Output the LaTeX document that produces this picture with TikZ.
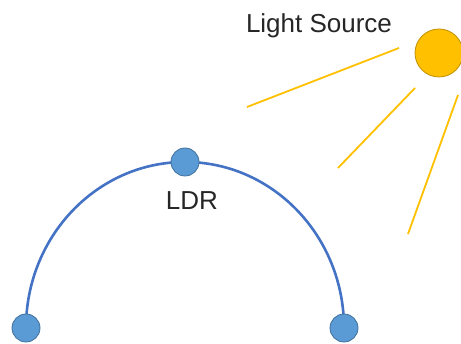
\documentclass[tikz,border=0pt]{standalone}
\usepackage{fontspec}
\setmainfont{Liberation Sans}
\definecolor{wireblue}{HTML}{4472C4}
\definecolor{dotblue}{HTML}{5B9BD5}
\definecolor{dotedge}{HTML}{41719C}
\definecolor{sunfill}{HTML}{FFC000}
\definecolor{sunedge}{HTML}{BF9000}
\definecolor{textgray}{HTML}{262626}
\tikzset{
  pin/.style={inner sep=0pt, circle, minimum size=28pt, fill=dotblue, draw=dotedge, line width=0.8pt},
  ray/.style={draw=sunfill, line width=1.8pt},
  lbl/.style={font=\fontsize{26}{31}\selectfont, text=textgray, anchor=base, inner sep=0pt}
}
\begin{document}
\begin{tikzpicture}[x=1pt, y=1pt]
  \useasboundingbox (0,0) rectangle (461,344);

  % the wire, under the pins
  \draw[wireblue, line width=2.6pt] (26,16) arc[start angle=180, end angle=0, x radius=159, y radius=166];

  \node [pin](left) at (26,16) {};
  \node [pin](top) at (185,182) {};
  \node [pin](right) at (344,16) {};

  \node [circle, inner sep=0pt, minimum size=48pt, fill=sunfill, draw=sunedge, line width=0.8pt](sun) at (439,291) {};

  \node [lbl](ldr) at (192,134) {LDR};
  \node [lbl](src) at (319,311) {Light Source};

  % rays, from near the sun to free ends
  \coordinate (r1a) at (399,296);
  \coordinate (r1b) at (247,237);
  \coordinate (r2a) at (415,256);
  \coordinate (r2b) at (338,176);
  \coordinate (r3a) at (458,249);
  \coordinate (r3b) at (408,110);
  \draw[ray] (r1a) -- (r1b);
  \draw[ray] (r2a) -- (r2b);
  \draw[ray] (r3a) -- (r3b);
\end{tikzpicture}
\end{document}
